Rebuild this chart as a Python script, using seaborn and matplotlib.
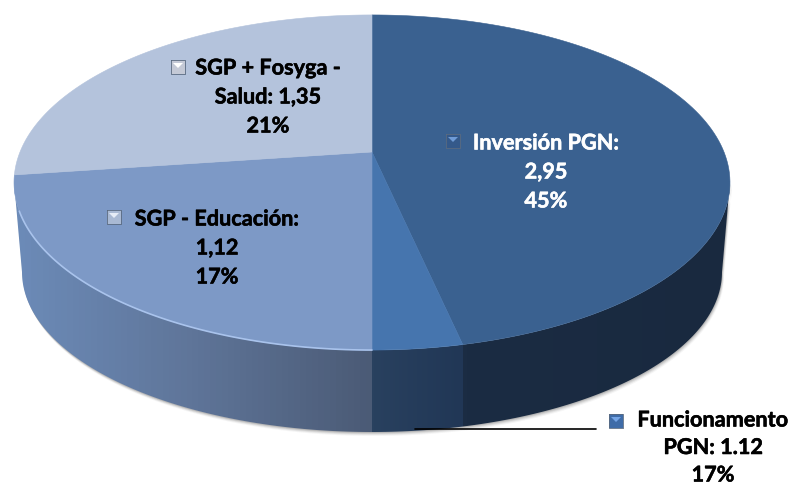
"""
3D style pie of the budget split, drawn from the slice shares seen in the picture
"""
import matplotlib
matplotlib.use("Agg")
import matplotlib.pyplot as plt
import matplotlib.patheffects as pe
from matplotlib.patches import Polygon
import numpy as np
import seaborn as sns

# order is clockwise from 12 o'clock
slice_names = ['Inversión PGN', 'Funcionamento PGN', 'SGP - Educación', 'SGP + Fosyga - Salud']
# share of the circle each slice really takes in the drawing (not the printed %)
slice_shares = [46.6, 3.4, 22.8, 27.2]
top_colors = ['#3a6190', '#4675ae', '#7d99c6', '#b4c3dc']
key_colors = ['#34598a', '#3f6ca8', '#a9b9d3', '#c4c9d6']
key_light = ['#6f9bd6', '#75a5e6', '#e6ecf6', '#ffffff']

label_lines = [['Inversión PGN:', '2,95', '45%'],
               ['Funcionamento', 'PGN: 1.12', '17%'],
               ['SGP - Educación:', '1,12', '17%'],
               ['SGP + Fosyga -', 'Salud: 1,35', '21%']]
label_colors = ['white', 'black', 'black', 'black']
label_x = [546, 713, 217, 268]
label_y = [143, 420, 219, 68]
label_step = [29, 27.5, 29, 29]
key_x = [446, 609, 107, 171]
key_y = [134, 414, 210, 60]

# wall colours, left to right inside each zone
wall_left = ['#6c8bb8', '#5f7599', '#4b5b76']
wall_mid = ['#29415f', '#213756']
wall_right = ['#1b2c43', '#19293f']

# geometry of the tilted disc, in pixels
CX, CY = 372, 152
A, B, K = 162, 352, 0.182
BOT_CY, BOT_RX, BOT_RY = 272, 350, 160


def rim(theta):
    # theta clockwise from the top, disc seen in perspective
    u, v = np.sin(theta), np.cos(theta)
    return CX + B * u / (1 + K * v), CY - A * v / (1 + K * v)


sns.set_theme(style="white")
plt.rcParams['font.family'] = ['Lato', 'DejaVu Sans']

fig = plt.figure(figsize=(7.91, 4.87), dpi=100)
ax = fig.add_axes([0, 0, 1, 1])

angles = np.radians(np.concatenate([[0], np.cumsum(slice_shares)]) * 3.6)

# outline of the side wall: bottom rim, then lower part of the top rim back
t = np.linspace(np.pi / 2, 3 * np.pi / 2, 200)
bot_x = CX + BOT_RX * np.sin(t)
bot_y = BOT_CY - BOT_RY * np.cos(t)
th = np.linspace(np.pi * 0.5, np.pi * 1.5, 300)
rx, ry = rim(th)
low = np.argmax(rx), np.argmin(rx)
rx, ry = rx[low[0]:low[1] + 1], ry[low[0]:low[1] + 1]
wall_xy = np.column_stack([np.r_[bot_x, rx[::-1]], np.r_[bot_y, ry[::-1]]])

# soft shadow under the wall, has to stay below the gradient images
for off, alpha in zip([4, 3, 2, 1], [0.06, 0.1, 0.14, 0.2]):
    ax.add_patch(Polygon(wall_xy + [off * 0.5, off], closed=True, color='#555555', alpha=alpha, lw=0, zorder=-1))

seam_right = rim(angles[1])[0]
seam_mid = rim(angles[2])[0]
wall_clip = Polygon(wall_xy, closed=True, transform=ax.transData, fc='none', ec='none')
ax.add_patch(wall_clip)
zones = [(rx.min() - 1, seam_mid, wall_left), (seam_mid, seam_right, wall_mid), (seam_right, rx.max() + 1, wall_right)]
for x0, x1, cols in zones:
    grad = np.array(sns.blend_palette(cols, 60))[np.newaxis, :, :]
    im = ax.imshow(grad, extent=[x0, x1, 450, 150], aspect='auto', interpolation='nearest')
    im.set_clip_path(wall_clip)

# top face
for i, name in enumerate(slice_names):
    th = np.linspace(angles[i], angles[i + 1], 120)
    x, y = rim(th)
    ax.fill(np.r_[CX, x], np.r_[CY, y], color=top_colors[i], lw=0.4, label=name)

# light edge along the front of the education slice
th = np.linspace(angles[2], angles[2] + np.radians(70), 80)
x, y = rim(th)
ax.plot(x, y, color='#a9c3ec', lw=1.2)

# leader line of the small slice
ax.plot([415, 596], [429, 429], color='black', lw=1.2)

# labels with their bevelled legend keys
for i in range(len(slice_names)):
    for j, line in enumerate(label_lines[i]):
        ax.text(label_x[i], label_y[i] + j * label_step[i], line, color=label_colors[i], fontsize=15.6,
                fontweight='bold', ha='center', va='center',
                path_effects=[pe.withStroke(linewidth=0.4, foreground=label_colors[i])])
    kx, ky = key_x[i], key_y[i]
    ax.fill([kx, kx + 14, kx + 14, kx], [ky, ky, ky + 14, ky + 14], color=key_colors[i], lw=0)
    ax.fill([kx + 2, kx + 12, kx + 7], [ky + 3, ky + 3, ky + 8], color=key_light[i], lw=0)
    ax.plot([kx, kx + 14, kx + 14, kx, kx], [ky, ky, ky + 14, ky + 14, ky], color='#5a6a80', lw=0.6)

ax.set_xlim(0, 791)
ax.set_ylim(487, 0)
ax.axis('off')

fig.savefig('out.png', dpi=100)
